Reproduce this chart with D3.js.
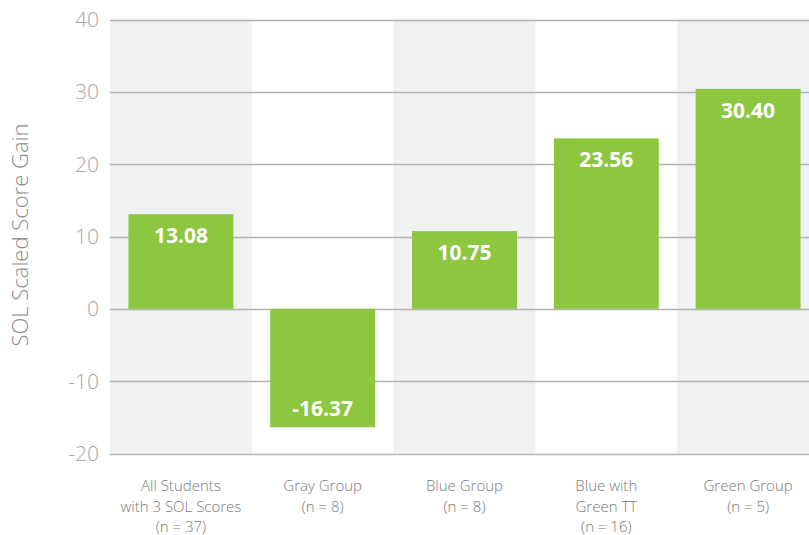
<!DOCTYPE html>
<html>
<head>
<meta charset="utf-8">
<script src="https://cdn.jsdelivr.net/npm/d3@7"></script>
<style>
    html, body { margin: 0; padding: 0; background: #fff; overflow: hidden; }
    svg { display: block; }
</style>
</head>
<body>
<svg id="chart" width="809" height="535"></svg>
<script>
'use strict';

// category labels (line by line) and values
var categories = [
    ["All Students", "with 3 SOL Scores", "(n = 37)"],
    ["Gray Group", "(n = 8)"],
    ["Blue Group", "(n = 8)"],
    ["Blue with", "Green TT", "(n = 16)"],
    ["Green Group", "(n = 5)"]
];
var gains = [13.08, -16.37, 10.75, 23.56, 30.40];
var valueLabels = ["13.08", "-16.37", "10.75", "23.56", "30.40"];
var yTicks = [-20, -10, 0, 10, 20, 30, 40];
var yTitle = "SOL Scaled Score Gain";

var svg = d3.select("#chart");

var margin = { top: 19.5, left: 110 },
    plotWidth = 709,
    plotHeight = 434;

var x = d3.scaleBand()
    .domain(d3.range(categories.length))
    .range([margin.left, margin.left + plotWidth]);

var y = d3.scaleLinear()
    .domain([-20, 40])
    .range([margin.top + plotHeight, margin.top]);

var barWidth = x.bandwidth() * 0.74;

// alternating background bands
svg.append("g").selectAll("rect")
    .data(d3.range(categories.length).filter(function (i) { return i % 2 === 0; }))
    .enter()
    .append("rect")
    .attr("x", function (i) { return x(i); })
    .attr("y", y(40))
    .attr("width", x.bandwidth())
    .attr("height", y(-20) - y(40))
    .style("fill", "#f0f1f3");

// gridlines
svg.append("g").selectAll("line")
    .data(yTicks)
    .enter()
    .append("line")
    .attr("x1", margin.left)
    .attr("x2", margin.left + plotWidth)
    .attr("y1", function (d) { return Math.round(y(d)) + 0.5; })
    .attr("y2", function (d) { return Math.round(y(d)) + 0.5; })
    .style("stroke", "#b3b3b3")
    .style("stroke-width", 1.5);

// y tick labels
svg.append("g").selectAll("text")
    .data(yTicks)
    .enter()
    .append("text")
    .attr("x", 99)
    .attr("y", function (d) { return y(d); })
    .attr("dy", "0.36em")
    .attr("text-anchor", "end")
    .style("font-family", "'Open Sans', sans-serif")
    .style("font-weight", 300)
    .style("font-size", "21px")
    .style("fill", "#a6a6a6")
    .text(function (d) { return d; });

// y axis title
svg.append("text")
    .attr("transform", "translate(28," + 235 + ") rotate(-90)")
    .attr("text-anchor", "middle")
    .style("font-family", "'Open Sans', sans-serif")
    .style("font-weight", 300)
    .style("font-size", "22px")
    .style("fill", "#8c8c8c")
    .text(yTitle);

// bars
svg.append("g").selectAll("rect")
    .data(gains)
    .enter()
    .append("rect")
    .attr("x", function (d, i) { return x(i) + (x.bandwidth() - barWidth) / 2; })
    .attr("y", function (d) { return y(Math.max(0, d)); })
    .attr("width", barWidth)
    .attr("height", function (d) { return Math.abs(y(d) - y(0)); })
    .style("fill", "#8dc63f");

// value labels
svg.append("g").selectAll("text")
    .data(gains)
    .enter()
    .append("text")
    .attr("x", function (d, i) { return x(i) + x.bandwidth() / 2; })
    .attr("y", function (d) { return d >= 0 ? y(d) + 29 : y(d) - 11; })
    .attr("text-anchor", "middle")
    .style("font-family", "'Open Sans', sans-serif")
    .style("font-weight", 700)
    .style("font-size", "21px")
    .style("fill", "#fff")
    .text(function (d, i) { return valueLabels[i]; });

// category labels
var cat = svg.append("g").selectAll("text")
    .data(categories)
    .enter()
    .append("text")
    .attr("text-anchor", "middle")
    .style("font-family", "'Open Sans', sans-serif")
    .style("font-weight", 300)
    .style("font-size", "15px")
    .style("fill", "#7a7a7a");

cat.selectAll("tspan")
    .data(function (d, i) { return d.map(function (s) { return { s: s, i: i }; }); })
    .enter()
    .append("tspan")
    .attr("x", function (d) { return x(d.i) + x.bandwidth() / 2; })
    .attr("y", function (d, j) { return 491 + j * 20.5; })
    .text(function (d) { return d.s; });
</script>
</body>
</html>
